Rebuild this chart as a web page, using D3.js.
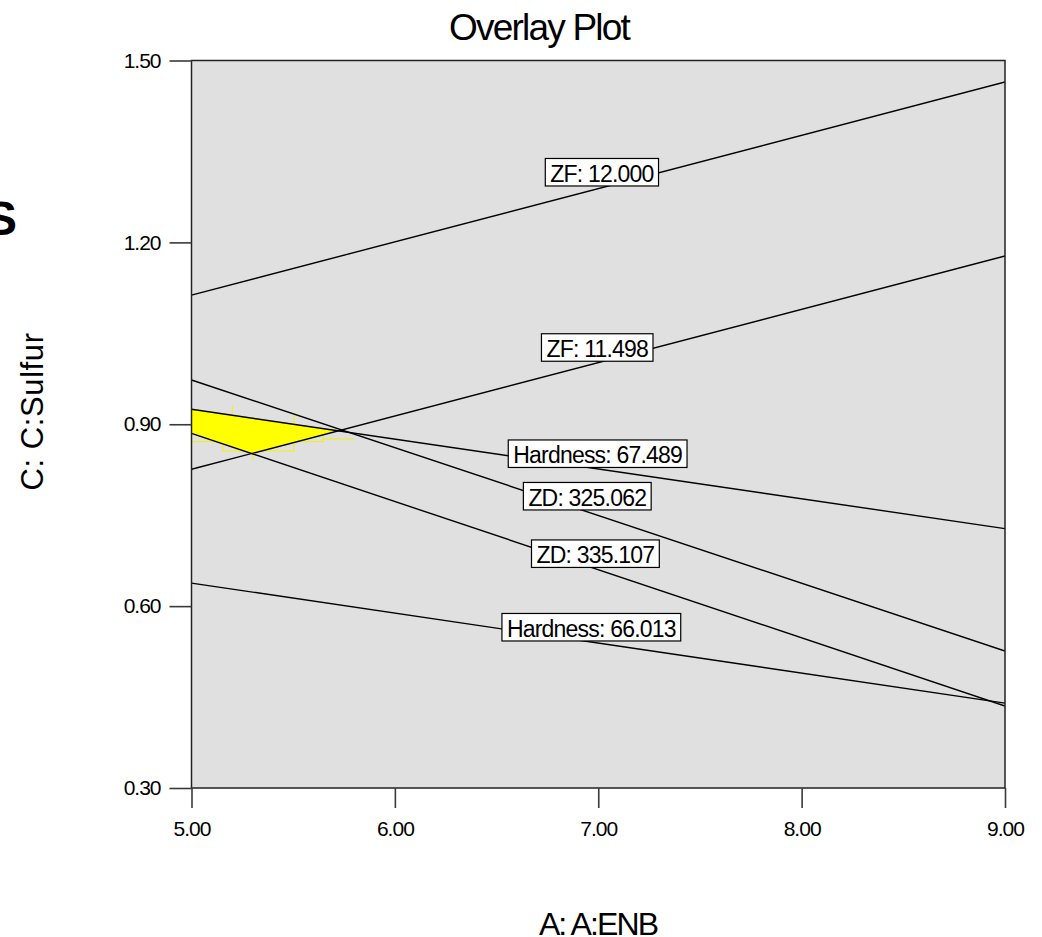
<!DOCTYPE html>
<html><head><meta charset="utf-8">
<script src="https://cdn.jsdelivr.net/npm/d3@7"></script>
<style>
body{margin:0;background:#fff}
text{font-family:"Liberation Sans",Arial,Helvetica,sans-serif;fill:#000}
</style>
</head><body>
<svg id="chart" width="1042" height="937"></svg>
<script>
// ---- data ----
const xTicks = [5.00, 6.00, 7.00, 8.00, 9.00];
const yTicks = [0.30, 0.60, 0.90, 1.20, 1.50];
const xDomain = [5, 9];
const yDomain = [0.30, 1.50];

const zf12000      = [[5, 1.113],  [9, 1.4645]];
const zf11498      = [[5, 0.8257], [9, 1.1775]];
const hardness67489 = [[5, 0.9247], [9, 0.7279]];
const zd325062     = [[5, 0.973],  [9, 0.526]];
const zd335107     = [[5, 0.885],  [9, 0.4353]];
const hardness66013 = [[5, 0.638],  [9, 0.440]];

const contourLabels = ["ZF: 12.000", "ZF: 11.498", "Hardness: 67.489", "ZD: 325.062", "ZD: 335.107", "Hardness: 66.013"];
const labelX = [7.018, 6.995, 6.997, 6.946, 6.986, 6.966];
const labelY = [1.3157, 1.0266, 0.8514, 0.7813, 0.6865, 0.5652];

const feasibleRegion = [[5, 0.9247], [5.730, 0.8897], [5.2975, 0.852], [5, 0.885]];
const meshTraces = [
  [[5.2006, 0.9306], [5.2006, 0.9186]],
  [[5.504, 0.9153], [5.504, 0.8559]],
  [[5.153, 0.8559], [5.504, 0.8559]],
  [[5.153, 0.8658], [5.153, 0.8559]],
  [[5.0, 0.8712], [5.647, 0.8712]],
  [[5.647, 0.8856], [5.647, 0.8712]],
  [[5.301, 0.8526], [5.301, 0.841]],
  [[5.647, 0.8757], [5.799, 0.8757]]
];

const chartTitle = "Overlay Plot";
const xTitle = "A: A:ENB";
const yTitle = "C: C:Sulfur";

// ---- drawing ----
const svg = d3.select("#chart");
const x = d3.scaleLinear().domain(xDomain).range([191.5, 1005]);
const y = d3.scaleLinear().domain(yDomain).range([788, 60.5]);
const fmt = d3.format(".2f");

svg.append("defs").append("clipPath").attr("id", "clip")
  .append("rect").attr("x", x(5)).attr("y", y(1.5))
  .attr("width", x(9) - x(5)).attr("height", y(0.3) - y(1.5));

svg.append("rect").attr("x", x(5)).attr("y", y(1.5))
  .attr("width", x(9) - x(5)).attr("height", y(0.3) - y(1.5))
  .attr("fill", "#e0e0e0");

const plot = svg.append("g").attr("clip-path", "url(#clip)");
const line = d3.line().x(d => x(d[0])).y(d => y(d[1]));

plot.selectAll("path.mesh").data(meshTraces).join("path")
  .attr("class", "mesh").attr("d", line)
  .attr("fill", "none").attr("stroke", "#f2f200").attr("stroke-width", 1);

plot.append("path").datum(feasibleRegion)
  .attr("d", d3.line().x(d => x(d[0])).y(d => y(d[1])).curve(d3.curveLinearClosed))
  .attr("fill", "#ffff00").attr("stroke", "none");

const contours = [zf12000, zf11498, hardness67489, zd325062, zd335107, hardness66013];
plot.selectAll("path.contour").data(contours).join("path")
  .attr("class", "contour").attr("d", line)
  .attr("fill", "none").attr("stroke", "#000").attr("stroke-width", 1.4);

// labels
contourLabels.forEach((lab, i) => {
  const g = plot.append("g");
  const cx = x(labelX[i]), cy = y(labelY[i]);
  const t = g.append("text").attr("x", cx).attr("y", cy + 9.5)
    .attr("text-anchor", "middle").style("font-size", "23px")
    .style("letter-spacing", "-0.8px").text(lab);
  const bb = t.node().getBBox();
  g.insert("rect", "text")
    .attr("x", bb.x - 5).attr("y", cy - 13.75)
    .attr("width", bb.width + 10).attr("height", 27.5)
    .attr("fill", "#fff").attr("stroke", "#000").attr("stroke-width", 1.2);
});

// frame
svg.append("rect").attr("x", x(5)).attr("y", y(1.5))
  .attr("width", x(9) - x(5)).attr("height", y(0.3) - y(1.5))
  .attr("fill", "none").attr("stroke", "#222").attr("stroke-width", 1.5);

// axes
const xAxis = d3.axisBottom(x).tickValues(xTicks).tickFormat(fmt)
  .tickSize(20).tickSizeOuter(0).tickPadding(13);
const yAxis = d3.axisLeft(y).tickValues(yTicks).tickFormat(fmt)
  .tickSize(22).tickSizeOuter(0).tickPadding(9);

const gx = svg.append("g").attr("transform", `translate(0,${y(0.3)})`).call(xAxis);
const gy = svg.append("g").attr("transform", `translate(${x(5)},0)`).call(yAxis);
[gx, gy].forEach(g => {
  g.select(".domain").remove();
  g.selectAll(".tick line").attr("stroke", "#3a3a3a").attr("stroke-width", 1.6);
  g.selectAll(".tick text").attr("fill", "#000")
    .style("font-size", "21px").style("letter-spacing", "-1px")
    .style("font-family", '"Liberation Sans", Arial, sans-serif');
});

// titles
svg.append("text").attr("x", 539).attr("y", 40).attr("text-anchor", "middle")
  .style("font-size", "37px").style("letter-spacing", "-1.8px").text(chartTitle);

svg.append("text").attr("x", 598).attr("y", 935).attr("text-anchor", "middle")
  .style("font-size", "32px").style("letter-spacing", "-1.9px").text(xTitle);

svg.append("text").attr("transform", "translate(43,411.5) rotate(-90)")
  .attr("text-anchor", "middle")
  .style("font-size", "31px").style("letter-spacing", "0.6px").text(yTitle);

// clipped bold glyph at left edge
svg.append("text").attr("x", 17).attr("y", 235).attr("text-anchor", "end")
  .style("font-size", "48px").style("font-weight", "bold").text("S");
</script>
</body></html>
